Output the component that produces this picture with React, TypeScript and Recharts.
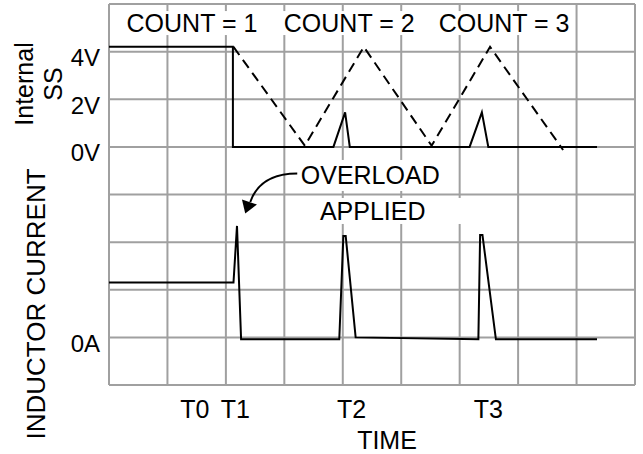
import React from 'react';
import { ComposedChart, Line, XAxis, YAxis, CartesianGrid, ReferenceDot, ReferenceLine } from 'recharts';

const FONT = '"Liberation Sans", Arial, Helvetica, sans-serif';

// time axis measured in grid divisions
const gridTimes = [0, 1, 2, 3, 4, 5, 6, 7, 8, 9];
const timeTickPositions = [1.47, 2.16, 4.15, 6.49];
const timeTickLabels = ['T0', 'T1', 'T2', 'T3'];

// internal soft-start axis (volts)
const ssGridVolts = [-10, -8, -6, -4, -2, 0, 2, 4, 6];
const ssLabelVolts = [0, 2, 4];
const ssLabelText = ['0V', '2V', '4V'];

// inductor current axis (arbitrary units, one grid division each)
const ilTicks = [0];
const ilTickText = ['0A'];

// solid SS trace
const ssSolidTime = [0, 2.12, 2.12, 3.84, 4.04, 4.12, 6.17, 6.38, 6.49, 8.35];
const ssSolidVolts = [4.2, 4.2, 0, 0, 1.45, 0, 0, 1.45, 0, 0];

// dashed SS ramp trace
const ssRampTime = [2.13, 3.35, 4.36, 5.52, 6.52, 7.77];
const ssRampVolts = [4.2, 0.05, 4.2, 0.05, 4.2, -0.13];

// inductor current trace
const ilTime = [0, 2.13, 2.19, 2.26, 3.94, 4.01, 4.05, 4.22, 6.32, 6.35, 6.39, 6.62, 8.35];
const ilAmps = [1.15, 1.15, 2.34, -0.04, -0.04, 2.13, 2.13, 0, -0.04, 2.15, 2.15, -0.04, -0.04];

// annotations
const countLabels = ['COUNT = 1', 'COUNT = 2', 'COUNT = 3'];
const countTimes = [1.42, 4.11, 6.76];
const countVolts = [5.2, 5.2, 5.2];
const overloadLines = ['OVERLOAD', 'APPLIED'];
const overloadTime = 4.47;
const overloadAmps = 3.41;

const ssSolidData = ssSolidTime.map((t, i) => ({ t, v: ssSolidVolts[i] }));
const ssRampData = ssRampTime.map((t, i) => ({ t, v: ssRampVolts[i] }));
const ilData = ilTime.map((t, i) => ({ t, a: ilAmps[i] }));

const ssFormat = (v: number) => {
  const i = ssLabelVolts.indexOf(v);
  return i >= 0 ? ssLabelText[i] : '';
};
const ilFormat = (v: number) => {
  const i = ilTicks.indexOf(v);
  return i >= 0 ? ilTickText[i] : '';
};
const timeFormat = (v: number) => {
  const i = timeTickPositions.indexOf(v);
  return i >= 0 ? timeTickLabels[i] : '';
};

const GRID = '#a0a0a0';
const textStyle = { fontFamily: FONT, fill: '#000' };

const CountLabel = (props: any) => {
  const { cx, cy, text } = props;
  if (cx == null || cy == null) return null;
  return (
    <g>
      <rect x={cx - 70} y={cy - 12} width={140} height={24} fill="#fff" />
      <text x={cx} y={cy + 9} textAnchor="middle" fontSize={25} {...textStyle}>
        {text}
      </text>
    </g>
  );
};

const OverloadLabel = (props: any) => {
  const { cx, cy } = props;
  if (cx == null || cy == null) return null;
  return (
    <g>
      <rect x={cx - 74} y={cy - 15} width={148} height={31} fill="#fff" />
      <rect x={cx - 70} y={cy + 23} width={168} height={26} fill="#fff" />
      <text x={cx} y={cy + 9} textAnchor="middle" fontSize={25} {...textStyle}>
        {overloadLines[0]}
      </text>
      <text x={cx + 2.5} y={cy + 45} textAnchor="middle" fontSize={25} {...textStyle}>
        {overloadLines[1]}
      </text>
      <path
        d={`M${cx - 73},${cy - 1.5} Q${cx - 110},${cy - 1.5} ${cx - 120},${cy + 27}`}
        fill="none"
        stroke="#000"
        strokeWidth={2}
      />
      <polygon
        points={`${cx - 128.3},${cy + 24.5} ${cx - 113.3},${cy + 29.5} ${cx - 125},${cy + 38.5}`}
        fill="#000"
      />
    </g>
  );
};

const YTitles = (props: any) => {
  const vb = props.viewBox || { x: 0, y: 4 };
  const x0 = vb.x;
  const y0 = vb.y;
  return (
    <g>
      <text
        x={x0 + 33}
        y={y0 + 80}
        transform={`rotate(-90, ${x0 + 33}, ${y0 + 80})`}
        textAnchor="middle"
        fontSize={25}
        {...textStyle}
      >
        Internal
      </text>
      <text
        x={x0 + 62}
        y={y0 + 80}
        transform={`rotate(-90, ${x0 + 62}, ${y0 + 80})`}
        textAnchor="middle"
        fontSize={25}
        {...textStyle}
      >
        SS
      </text>
      <text
        x={x0 + 45}
        y={y0 + 300}
        transform={`rotate(-90, ${x0 + 45}, ${y0 + 300})`}
        textAnchor="middle"
        fontSize={26}
        {...textStyle}
      >
        INDUCTOR CURRENT
      </text>
    </g>
  );
};

const TimeTitle = (props: any) => {
  const vb = props.viewBox || { x: 109, y: 385, width: 526, height: 69 };
  return (
    <text x={vb.x + vb.width / 2 + 15} y={vb.y + 64} textAnchor="middle" fontSize={25} {...textStyle}>
      TIME
    </text>
  );
};

export default function App() {
  return (
    <div style={{ position: 'absolute', left: 0, top: 0, width: 643, height: 454, background: '#fff' }}>
      <ComposedChart width={643} height={454} margin={{ top: 4, right: 8, bottom: 0, left: 0 }}>
        <XAxis
          xAxisId="time"
          type="number"
          dataKey="t"
          domain={[0, 9]}
          ticks={timeTickPositions}
          tickFormatter={timeFormat}
          interval={0}
          height={69}
          axisLine={false}
          tickLine={false}
          tickMargin={9}
          tick={{ fontSize: 25, ...textStyle }}
          label={{ content: TimeTitle }}
        />
        <YAxis
          yAxisId="il"
          type="number"
          domain={[-1, 7]}
          ticks={ilTicks}
          tickFormatter={ilFormat}
          interval={0}
          width={1}
          axisLine={false}
          tickLine={false}
          tickMargin={3}
          tick={{ fontSize: 24, dy: 6, ...textStyle }}
        />
        <YAxis
          yAxisId="ss"
          type="number"
          domain={[-10, 6]}
          ticks={ssGridVolts}
          tickFormatter={ssFormat}
          interval={0}
          width={108}
          axisLine={false}
          tickLine={false}
          tickMargin={2}
          tick={{ fontSize: 24, dy: 6, ...textStyle }}
          label={{ content: YTitles }}
        />
        <CartesianGrid xAxisId="time" yAxisId="ss" vertical={false} stroke={GRID} strokeWidth={2} />
        {gridTimes.map((t) => (
          <ReferenceLine
            key={`g${t}`}
            x={t}
            xAxisId="time"
            yAxisId="ss"
            stroke={GRID}
            strokeWidth={2}
          />
        ))}
        {countLabels.map((text, i) => (
          <ReferenceDot
            key={text}
            xAxisId="time"
            yAxisId="ss"
            x={countTimes[i]}
            y={countVolts[i]}
            r={0}
            shape={(p: any) => <CountLabel {...p} text={text} />}
          />
        ))}
        <ReferenceDot
          xAxisId="time"
          yAxisId="il"
          x={overloadTime}
          y={overloadAmps}
          r={0}
          shape={(p: any) => <OverloadLabel {...p} />}
        />
        <Line
          data={ssSolidData}
          dataKey="v"
          xAxisId="time"
          yAxisId="ss"
          type="linear"
          stroke="#000"
          strokeWidth={2}
          dot={false}
          isAnimationActive={false}
        />
        <Line
          data={ssRampData}
          dataKey="v"
          xAxisId="time"
          yAxisId="ss"
          type="linear"
          stroke="#000"
          strokeWidth={2}
          strokeDasharray="10 6"
          dot={false}
          isAnimationActive={false}
        />
        <Line
          data={ilData}
          dataKey="a"
          xAxisId="time"
          yAxisId="il"
          type="linear"
          stroke="#000"
          strokeWidth={2}
          dot={false}
          isAnimationActive={false}
        />
      </ComposedChart>
    </div>
  );
}
